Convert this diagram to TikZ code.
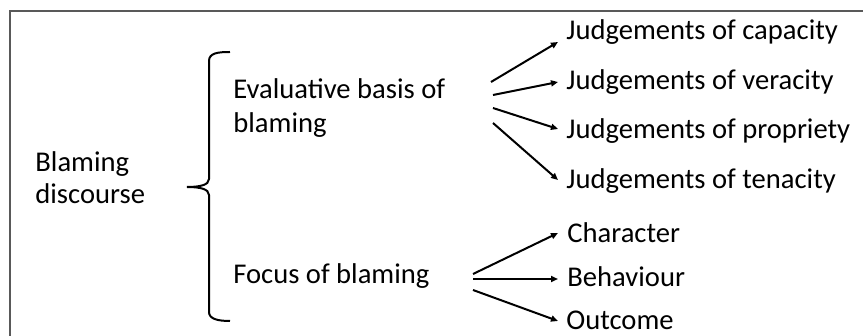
\documentclass[tikz,border=0pt]{standalone}
\usepackage{fontspec}
\setmainfont{Carlito}
\usetikzlibrary{arrows.meta}
\begin{document}
\begin{tikzpicture}[x=0.5pt,y=-0.5pt,
		lbl/.style={anchor=base west, inner sep=0pt, align=left, font=\fontsize{14.3}{16}\selectfont},
		arr/.style={line width=1pt, -{Triangle[length=3.5pt,width=3pt]}}]
		\useasboundingbox (0,0) rectangle (863,336);
		\draw[line width=0.8pt, black!65] (10,11) rectangle (880,350);
		\node[lbl] (disc) at (35,204) {Blaming\\discourse};
		\node[lbl, font=\fontsize{14.3}{17}\selectfont] (eval) at (233,133) {Evaluative basis of\\blaming};
		\node[lbl] (focus) at (233,284) {Focus of blaming};
		\node[lbl] (cap) at (566,40) {Judgements of capacity};
		\node[lbl] (ver) at (566,90) {Judgements of veracity};
		\node[lbl] (pro) at (566,139) {Judgements of propriety};
		\node[lbl] (ten) at (566,189) {Judgements of tenacity};
		\node[lbl] (char) at (567,243) {Character};
		\node[lbl] (beh) at (567,287) {Behaviour};
		\node[lbl] (out) at (566,330) {Outcome};
		% brace
		\draw[line width=1pt] (230,52) .. controls (218,52) and (209,53) .. (209,61) -- (209,179)
			.. controls (209,185) and (200,187) .. (187,187)
			.. controls (200,187) and (209,189) .. (209,195) -- (209,312)
			.. controls (209,319) and (218,321) .. (230,321);
		% branch points
		\coordinate (e1) at (491,82);
		\coordinate (e2) at (493,95);
		\coordinate (e3) at (493,108);
		\coordinate (e4) at (493,123);
		\coordinate (f1) at (473,274);
		\coordinate (f2) at (473,279);
		\coordinate (f3) at (473,290);
		\draw[arr] (e1) -- ([shift={(-8,2)}]cap.base west);
		\draw[arr] (e2) -- ([shift={(-8,-8)}]ver.base west);
		\draw[arr] (e3) -- ([shift={(-8,-10)}]pro.base west);
		\draw[arr] (e4) -- ([shift={(-8,-9)}]ten.base west);
		\draw[arr] (f1) -- ([shift={(-9,-10)}]char.base west);
		\draw[arr] (f2) -- ([shift={(-9,-8)}]beh.base west);
		\draw[arr] (f3) -- ([shift={(-8,-9)}]out.base west);
	\end{tikzpicture}
\end{document}
